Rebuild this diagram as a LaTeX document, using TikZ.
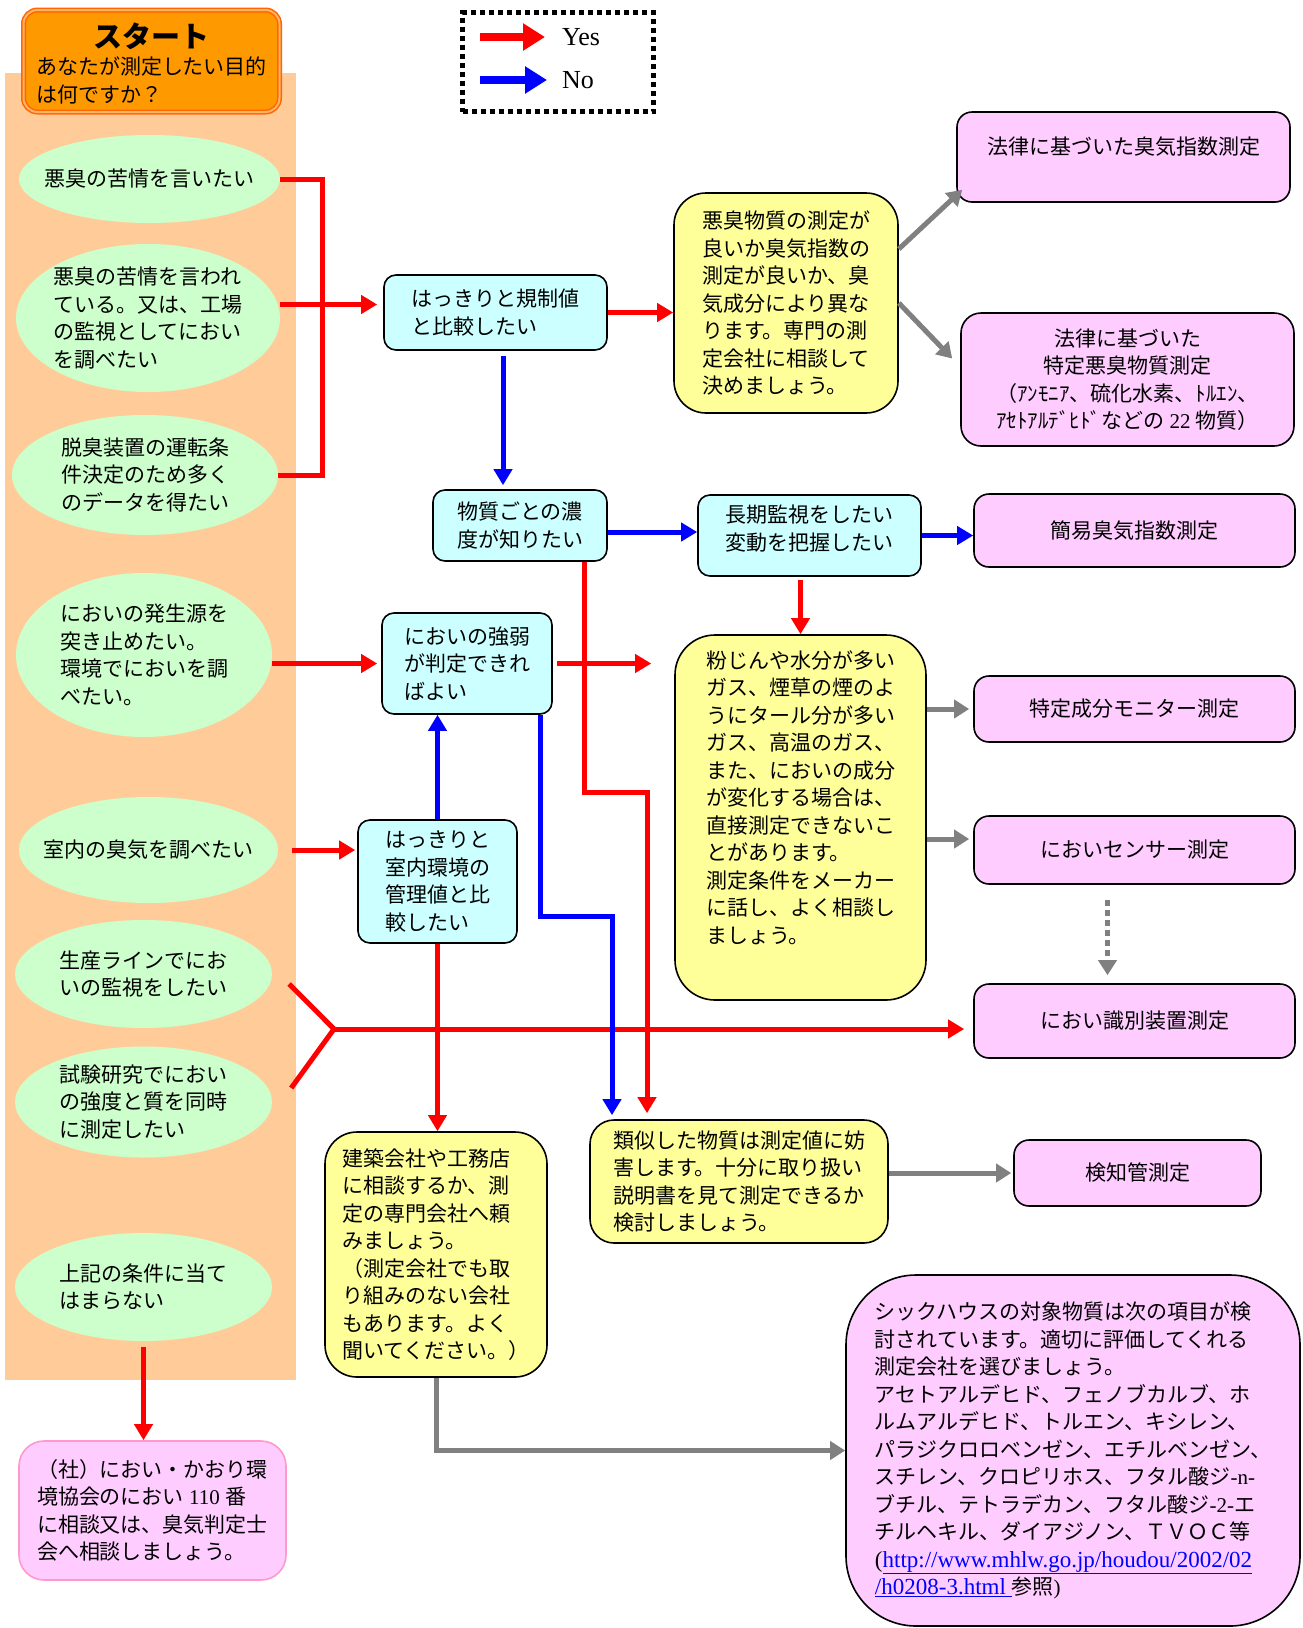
\documentclass[tikz,border=0pt]{standalone}
\usepackage{fontspec}
\setmainfont{Liberation Serif}
\newfontfamily\jpf{Noto Sans CJK JP}
\newfontfamily\latf{Liberation Serif}
\usetikzlibrary{arrows.meta,shapes.geometric,calc}
\definecolor{peach}{HTML}{FFCC99}
\definecolor{lgreen}{HTML}{CCFFCC}
\definecolor{lcyan}{HTML}{CCFFFF}
\definecolor{lyellow}{HTML}{FFFF99}
\definecolor{lpink}{HTML}{FFCCFF}
\definecolor{pinkline}{HTML}{FF99CC}
\definecolor{startfill}{HTML}{FF9900}
\definecolor{startline}{HTML}{FF6600}
\definecolor{startdbl}{HTML}{FFB366}
\definecolor{arrgray}{HTML}{808080}
\definecolor{yesred}{HTML}{FF0000}
\definecolor{noblue}{HTML}{0000FF}
\definecolor{urlblue}{HTML}{0000FF}
\begin{document}
\begin{tikzpicture}[x=1pt,y=-1pt,
  every node/.style={font=\jpf\fontsize{21}{27.5}\selectfont},
  greenell/.style={ellipse,fill=lgreen,draw=none,inner sep=0pt},
  etxt/.style={align=left,inner sep=0pt},
  cyanbox/.style={rectangle,rounded corners=12pt,draw=black,line width=1.6pt,fill=lcyan,align=left,inner sep=0pt},
  yelbox/.style={rectangle,rounded corners=32pt,draw=black,line width=1.6pt,fill=lyellow,align=left,inner sep=0pt},
  pinkbox/.style={rectangle,rounded corners=15pt,draw=black,line width=1.6pt,fill=lpink,align=center,inner sep=0pt},
  startbox/.style={rectangle,rounded corners=14pt,fill=startfill,draw=startline,line width=1.5pt,double=startdbl,double distance=2pt,inner sep=0pt},
  yesarrow/.style={draw=yesred,line width=5pt,-{Triangle[length=16pt,width=18pt]}},
  yesline/.style={draw=yesred,line width=5pt},
  noarrow/.style={draw=noblue,line width=5pt,-{Triangle[length=16pt,width=18pt]}},
  grayarrow/.style={draw=arrgray,line width=5pt,-{Triangle[length=15pt,width=18pt]}},
  legarrow/.style={line width=8pt,-{Triangle[length=22pt,width=26pt]}},
  legtext/.style={font=\latf\fontsize{26}{30}\selectfont,inner sep=0pt,anchor=west}
]
\useasboundingbox (0,0) rectangle (1303,1628);
% background band
\fill[peach] (5,73) rectangle (296,1380);

% start and legend
\node[startbox,minimum width=256pt,minimum height=102pt] (start) at (151.5,61) {\begin{tabular}{@{}l@{}}\multicolumn{1}{@{}c@{}}{\rule{0pt}{36pt}\fontsize{29}{32}\selectfont\bfseries スタート}\\ あなたが測定したい目的\\ は何ですか？\end{tabular}};
\node[draw=black,line width=5pt,dash pattern=on 5pt off 4pt,minimum width=191pt,minimum height=99pt,inner sep=0pt] (legend) at (558,62) {};
\coordinate (lyes) at (480,37);
\coordinate (lno) at (480,80);
\node[legtext] (yes) at (562,37) {Yes};
\node[legtext] (no) at (562,80) {No};
\draw[legarrow,draw=yesred,shorten >=17pt] (lyes) -- (yes.west);
\draw[legarrow,draw=noblue,shorten >=15pt] (lno) -- (no.west);

% ellipses
\node[greenell,minimum width=261pt,minimum height=88pt] (e1) at (149.5,179) {};
\node[etxt] (e1t) at (e1.center) {悪臭の苦情を言いたい};
\node[greenell,minimum width=264pt,minimum height=148pt] (e2) at (148,318) {};
\node[etxt] (e2t) at (e2.center) {悪臭の苦情を言われ\\ている。又は、工場\\の監視としてにおい\\を調べたい};
\node[greenell,minimum width=266pt,minimum height=120pt] (e3) at (145,475) {};
\node[etxt] (e3t) at (e3.center) {脱臭装置の運転条\\件決定のため多く\\のデータを得たい};
\node[greenell,minimum width=256pt,minimum height=164pt] (e4) at (144,655) {};
\node[etxt] (e4t) at (e4.center) {においの発生源を\\突き止めたい。\\環境でにおいを調\\べたい。};
\node[greenell,minimum width=259pt,minimum height=106pt] (e5) at (148.5,850) {};
\node[etxt] (e5t) at (e5.center) {室内の臭気を調べたい};
\node[greenell,minimum width=257pt,minimum height=108pt] (e6) at (143.5,974) {};
\node[etxt] (e6t) at (e6.center) {生産ラインでにお\\いの監視をしたい};
\node[greenell,minimum width=257pt,minimum height=111pt] (e7) at (143.5,1102) {};
\node[etxt] (e7t) at (e7.center) {試験研究でにおい\\の強度と質を同時\\に測定したい};
\node[greenell,minimum width=257pt,minimum height=108pt] (e8) at (143.5,1287) {};
\node[etxt] (e8t) at (e8.center) {上記の条件に当て\\はまらない};

% cyan boxes
\node[cyanbox,minimum width=223pt,minimum height=75pt] (A) at (495.5,312.5) {はっきりと規制値\\と比較したい};
\node[cyanbox,minimum width=174pt,minimum height=71pt] (B) at (520,525.5) {物質ごとの濃\\度が知りたい};
\node[cyanbox,minimum width=170pt,minimum height=101pt] (C) at (467,663.5) {においの強弱\\が判定できれ\\ばよい};
\node[cyanbox,minimum width=159pt,minimum height=123pt] (D) at (437.5,881.5) {はっきりと\\室内環境の\\管理値と比\\較したい};
\node[cyanbox,minimum width=223pt,minimum height=81pt] (E) at (809.5,535.5) {長期監視をしたい\\変動を把握したい\\[-12pt]\mbox{}};

% yellow boxes
\node[yelbox,minimum width=224pt,minimum height=220pt] (F) at (786,303) {悪臭物質の測定が\\良いか臭気指数の\\測定が良いか、臭\\気成分により異な\\ります。専門の測\\定会社に相談して\\決めましょう。};
\node[yelbox,rounded corners=40pt,minimum width=251pt,minimum height=365pt] (G) at (800.5,817.5) {粉じんや水分が多い\\ガス、煙草の煙のよ\\うにタール分が多い\\ガス、高温のガス、\\また、においの成分\\が変化する場合は、\\直接測定できないこ\\とがあります。\\測定条件をメーカー\\に話し、よく相談し\\ましょう。\\[14pt]\mbox{}};
\node[yelbox,minimum width=222pt,minimum height=245pt] (H) at (436,1254.5) {建築会社や工務店\\に相談するか、測\\定の専門会社へ頼\\みましょう。\\（測定会社でも取\\り組みのない会社\\もあります。よく\\聞いてください。）};
\node[yelbox,rounded corners=24pt,minimum width=298pt,minimum height=123pt] (I) at (739,1181.5) {類似した物質は測定値に妨\\害します。十分に取り扱い\\説明書を見て測定できるか\\検討しましょう。};

% pink boxes
\node[pinkbox,minimum width=333pt,minimum height=90pt] (P1) at (1123.5,157) {法律に基づいた臭気指数測定\\[-5pt]\mbox{}};
\node[pinkbox,rounded corners=20pt,minimum width=333pt,minimum height=133pt] (P2) at (1127.5,379.5) {法律に基づいた\\特定悪臭物質測定\\（ｱﾝﾓﾆｱ、硫化水素、ﾄﾙｴﾝ、\\ｱｾﾄｱﾙﾃﾞﾋﾄﾞなどの{\latf\ 22\ }物質）};
\node[pinkbox,minimum width=321pt,minimum height=73pt] (P3) at (1134.5,530.5) {簡易臭気指数測定};
\node[pinkbox,minimum width=321pt,minimum height=66pt] (P4) at (1134.5,709) {特定成分モニター測定};
\node[pinkbox,minimum width=321pt,minimum height=68pt] (P5) at (1134.5,850) {においセンサー測定};
\node[pinkbox,minimum width=321pt,minimum height=74pt] (P6) at (1134.5,1021) {におい識別装置測定};
\node[pinkbox,minimum width=247pt,minimum height=66pt] (P7) at (1137.5,1173) {検知管測定};
\node[pinkbox,rounded corners=70pt,align=left,minimum width=454pt,minimum height=351pt] (P8) at (1073,1450.5) {シックハウスの対象物質は次の項目が検\\討されています。適切に評価してくれる\\測定会社を選びましょう。\\アセトアルデヒド、フェノブカルブ、ホ\\ルムアルデヒド、トルエン、キシレン、\\パラジクロロベンゼン、エチルベンゼン、\\スチレン、クロピリホス、フタル酸ジ{\latf -n-}\\ブチル、テトラデカン、フタル酸ジ{\latf -2-}エ\\チルヘキル、ダイアジノン、ＴＶＯＣ等\\{\latf\fontsize{23}{27.5}\selectfont (\textcolor{urlblue}{\underline{http://www.mhlw.go.jp/houdou/2002/02}}}\\{\latf\fontsize{23}{27.5}\selectfont\textcolor{urlblue}{\underline{/h0208-3.html\ }}}参照{\latf )}};
\node[pinkbox,draw=pinkline,rounded corners=25pt,align=left,minimum width=267pt,minimum height=139pt] (P9) at (152.5,1510.5) {（社）におい・かおり環\\境協会のにおい{\latf\ 110\ }番\\に相談又は、臭気判定士\\会へ相談しましょう。};

% red (Yes) connectors
\coordinate (jx) at (322,0);
\draw[yesline] (e1.east) -- (e1.east -| jx) -- (e3.east -| jx) -- (e3.east);
\coordinate (a2) at ($(A.west)+(0,-8)$);
\draw[yesarrow,shorten >=6pt] (e2.east |- a2) -- (a2);
\draw[yesarrow] (A.east) -- (F.west |- A.east);
\draw[yesarrow,shorten >=4pt] (e4.east |- C.west) -- (C.west);
\draw[yesarrow,shorten <=4pt,shorten >=23pt] (C.east) -- (G.west |- C.east);
\coordinate (rb1) at (584,792);
\coordinate (rb2) at (647,792);
\draw[yesarrow,shorten >=6pt] (B.south -| rb1) -- (rb1) -- (rb2) -- (rb2 |- I.north);
\draw[yesarrow,shorten <=3pt] (E.south -| G.north) -- (G.north);
\draw[yesarrow,shorten <=14pt,shorten >=2pt] (e5.east) -- (D.west |- e5.east);
\coordinate (j67) at (334,1029);
\draw[yesline] ($(e6.east)+(17,10)$) -- (j67) -- ($(e7.east)+(19,-14)$);
\draw[yesarrow,shorten >=9pt] (j67) -- (P6.west |- j67);
\draw[yesarrow] (D.south) -- (H.north -| D.south);
\draw[yesarrow,shorten <=6pt] (e8.south) -- (P9.north -| e8.south);

% blue (No) connectors
\coordinate (bx) at (503,0);
\draw[noarrow,shorten <=5pt,shorten >=4pt] (A.south -| bx) -- (B.north -| bx);
\coordinate (by) at (0,532);
\draw[noarrow] (B.east |- by) -- (E.west |- by);
\draw[noarrow] (E.east) -- (P3.west |- E.east);
\draw[noarrow] (D.north) -- (C.south -| D.north);
\coordinate (bb1) at (540,916);
\coordinate (bb2) at (612,916);
\draw[noarrow,shorten >=4pt] (C.south -| bb1) -- (bb1) -- (bb2) -- (bb2 |- I.north);

% gray connectors
\draw[grayarrow] ($(F.east)+(0,-54)$) -- ($(P1.south west)+(6,-13)$);
\draw[grayarrow] (F.east) -- ($(P2.west)+(-8,-21)$);
\draw[grayarrow,shorten >=4pt] (G.east |- P4.west) -- (P4.west);
\coordinate (g5) at ($(P5.west)+(0,-11)$);
\draw[grayarrow,shorten >=4pt] (G.east |- g5) -- (g5);
\coordinate (d1) at ($(P5.south)+(-27,0)$);
\draw[grayarrow,dash pattern=on 6pt off 4pt,shorten <=15pt,shorten >=8pt] (d1) -- (d1 |- P6.north);
\draw[grayarrow,shorten >=2pt] (I.east |- P7.west) -- (P7.west);
\draw[grayarrow] (H.south) |- (P8.west);
\end{tikzpicture}
\end{document}
